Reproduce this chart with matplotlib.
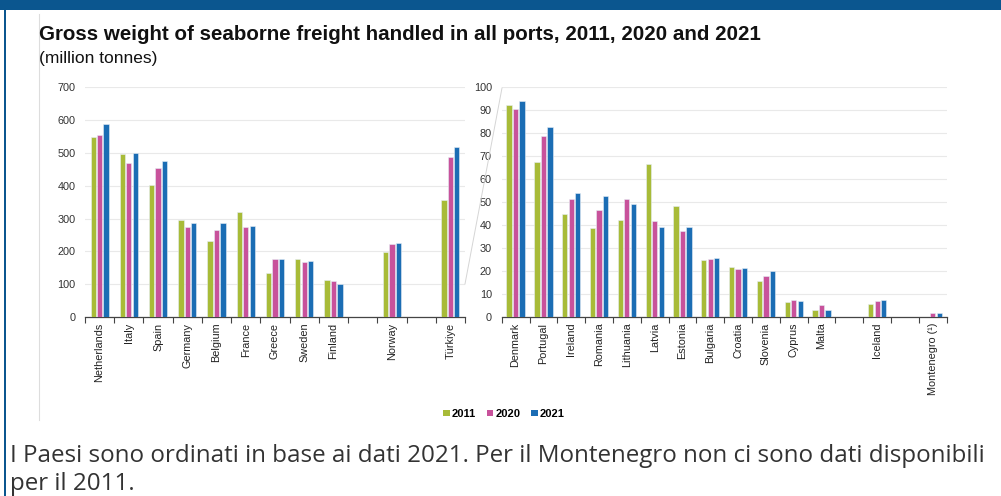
import numpy as np
import matplotlib
matplotlib.use("Agg")
import matplotlib.pyplot as plt
from matplotlib.patches import Patch, Rectangle
from matplotlib.lines import Line2D

# ---- data ----
years = ["2011", "2020", "2021"]
left_countries = ["Netherlands", "Italy", "Spain", "Germany", "Belgium", "France",
                  "Greece", "Sweden", "Finland", "", "Norway", "", "Türkiye"]
left_2011 = [548, 496, 402, 295, 232, 320, 135, 177, 114, np.nan, 197, np.nan, 358]
left_2020 = [554, 468, 455, 274, 265, 275, 177, 167, 109, np.nan, 222, np.nan, 488]
left_2021 = [589, 500, 476, 287, 287, 277, 177, 170, 101, np.nan, 225, np.nan, 518]

right_countries = ["Denmark", "Portugal", "Ireland", "Romania", "Lithuania", "Latvia",
                   "Estonia", "Bulgaria", "Croatia", "Slovenia", "Cyprus", "Malta",
                   "", "Iceland", "", "Montenegro (¹)"]
right_2011 = [92.3, 67.4, 44.9, 38.6, 42.3, 66.5, 48.3, 24.8, 21.7, 15.8, 6.5, 3.2,
              np.nan, 5.8, np.nan, np.nan]
right_2020 = [90.7, 78.8, 51.3, 46.7, 51.3, 41.9, 37.4, 25.2, 21.0, 18.0, 7.2, 5.4,
              np.nan, 7.0, np.nan, 1.9]
right_2021 = [93.9, 82.6, 53.9, 52.8, 49.0, 39.3, 39.3, 25.5, 21.3, 20.0, 6.8, 3.2,
              np.nan, 7.5, np.nan, 1.6]

left_ticks = [0, 100, 200, 300, 400, 500, 600, 700]
right_ticks = [0, 10, 20, 30, 40, 50, 60, 70, 80, 90, 100]

title = "Gross weight of seaborne freight handled in all ports, 2011, 2020 and 2021"
subtitle = "(million tonnes)"
caption_lines = ["I Paesi sono ordinati in base ai dati 2021. Per il Montenegro non ci sono dati disponibili",
                 "per il 2011."]

colors = ["#a8bb38", "#c8529b", "#1b6db4"]

W, H = 1001, 496
fig = plt.figure(figsize=(W / 100, H / 100), dpi=100)
fig.patch.set_facecolor("white")

def fx(px):
    return px / W

def fy(py):
    return 1 - py / H

# frame decorations
fig.add_artist(Rectangle((0, fy(10)), 1, 10 / H, transform=fig.transFigure,
                         facecolor="#0b568f", edgecolor="none"))
fig.add_artist(Rectangle((fx(4), 0), 2.2 / W, fy(10), transform=fig.transFigure,
                         facecolor="#0b568f", edgecolor="none"))
fig.add_artist(Line2D([fx(38.5), fx(38.5)], [fy(14), fy(420)], transform=fig.transFigure,
                      color="#dddddd", lw=0.8))

def draw_panel(rect, cats, series, ticks, ymax, spacing, width):
    ax = fig.add_axes(rect)
    x = np.arange(len(cats))
    for i, (vals, c) in enumerate(zip(series, colors)):
        ax.bar(x + (i - 1) * spacing, vals, width=width, color=c,
               edgecolor="#e6eef5", linewidth=0.4, zorder=3)
    ax.set_xlim(-0.5, len(cats) - 0.5)
    ax.set_ylim(0, ymax)
    ax.set_yticks(ticks)
    ax.set_yticklabels([str(t) for t in ticks], fontsize=7.8, color="#333333",
                       family="Liberation Sans")
    ax.tick_params(axis="y", length=0, pad=7)
    ax.set_xticks(x)
    ax.set_xticklabels(cats, rotation=90, fontsize=7.8, color="#222222",
                       family="Liberation Sans")
    ax.tick_params(axis="x", length=0, pad=4)
    ax.set_xticks(np.arange(len(cats) + 1) - 0.5, minor=True)
    ax.tick_params(axis="x", which="minor", length=4, width=0.8, color="#444444")
    ax.grid(axis="y", color="#e9e9e9", lw=0.8, zorder=0)
    for s in ["top", "right", "left"]:
        ax.spines[s].set_visible(False)
    ax.spines["bottom"].set_color("#444444")
    ax.spines["bottom"].set_linewidth(0.9)
    ax.set_facecolor("none")
    return ax

y_top, y_bot = 87.3, 317.0
axL = draw_panel([fx(85), fy(y_bot), fx(465) - fx(85), (y_bot - y_top) / H],
                 left_countries, [left_2011, left_2020, left_2021], left_ticks, 700,
                 0.22, 0.18)
axR = draw_panel([fx(501.7), fy(y_bot), fx(946.7) - fx(501.7), (y_bot - y_top) / H],
                 right_countries, [right_2011, right_2020, right_2021], right_ticks, 100,
                 0.234, 0.19)

# zoom connector line
fig.add_artist(Line2D([fx(465), fx(502)], [fy(284), fy(88)], transform=fig.transFigure,
                      color="#d5d5d5", lw=0.7))

fig.text(fx(39), fy(40), title, fontsize=14.8, fontweight="bold", color="#111111",
         family="Liberation Sans", va="baseline")
fig.text(fx(39), fy(63), subtitle, fontsize=12.5, color="#111111",
         family="Liberation Sans", va="baseline")

handles = [Patch(facecolor=c, edgecolor="none") for c in colors]
leg = fig.legend(handles, years, loc="center", bbox_to_anchor=(fx(504), fy(414)),
                 ncol=3, frameon=False, handlelength=0.55, handleheight=0.55,
                 handletextpad=0.2, columnspacing=1.0,
                 prop={"family": "Liberation Sans", "weight": "bold", "size": 8})

for line, base in zip(caption_lines, [462, 490]):
    fig.text(fx(10), fy(base), line, fontsize=17.4, color="#333333", family="Open Sans",
             va="baseline", ha="left")

fig.savefig("out.png", dpi=100)
